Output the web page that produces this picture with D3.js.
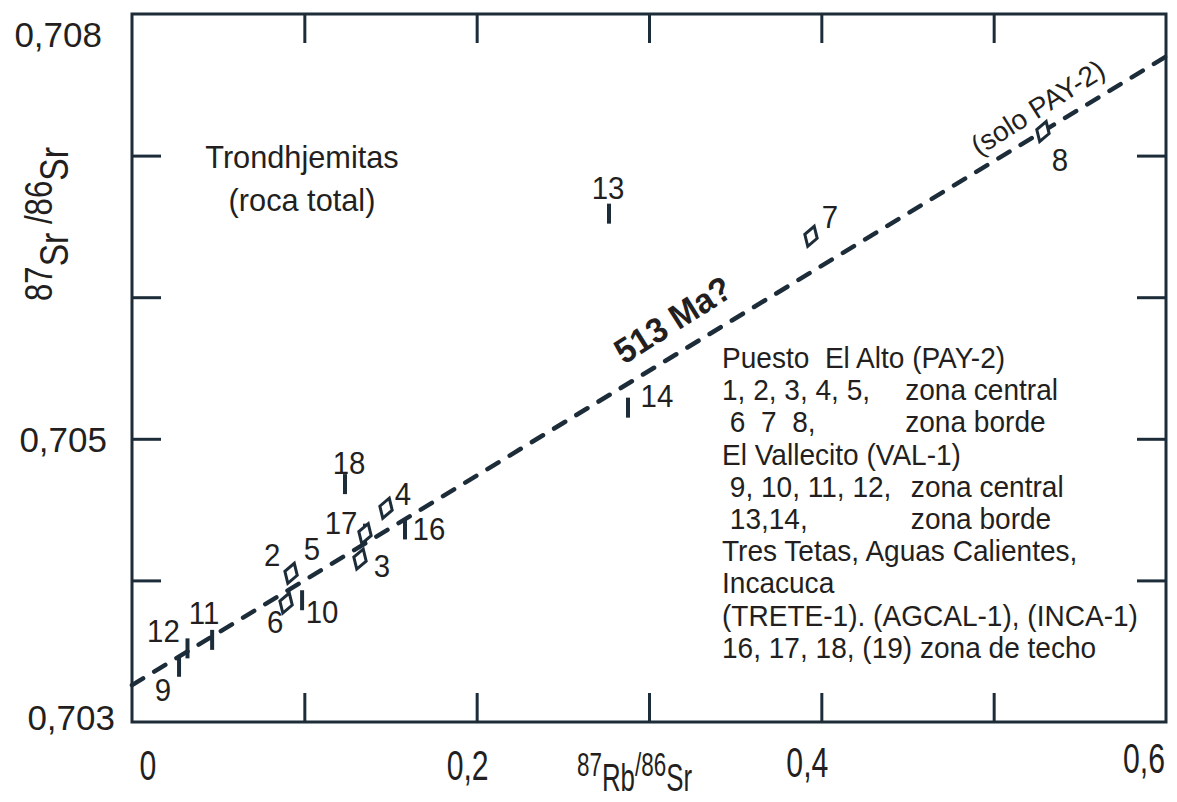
<!DOCTYPE html>
<html>
<head>
<meta charset="utf-8">
<script src="https://cdn.jsdelivr.net/npm/d3@7"></script>
<style>
body { margin: 0; background: #fff; }
svg text { font-family: "Liberation Sans", Arial, sans-serif; fill: #231f20; }
</style>
</head>
<body>
<div id="chart"></div>
<script>
// samples: number, 87Rb/86Sr, 87Sr/86Sr, group
var sampleIds = ["9", "12", "11", "6", "10", "2", "3", "17", "5", "4", "16", "18", "13", "14", "7", "8"];
var rbSr = [0.0273, 0.0322, 0.0465, 0.0894, 0.0987, 0.0923, 0.1323, 0.1352, 0.1352, 0.1474, 0.1584, 0.1236, 0.2768, 0.2878, 0.3940, 0.5286];
var srSr = [0.70339, 0.70352, 0.70358, 0.70384, 0.70386, 0.70405, 0.70415, 0.70433, 0.70433, 0.70451, 0.70436, 0.70468, 0.70659, 0.70522, 0.70643, 0.70717];
var groups = ["VAL-1", "VAL-1", "VAL-1", "PAY-2", "VAL-1", "PAY-2", "PAY-2", "techo", "PAY-2", "PAY-2", "techo", "techo", "VAL-1", "VAL-1", "PAY-2", "PAY-2"];

// reference isochron (513 Ma?)
var isoX = [0, 0.6];
var isoY = [0.70326, 0.70770];

// ticks and tick labels
var xTicks = [0.1, 0.2, 0.3, 0.4, 0.5];
var yTicks = [0.704, 0.705, 0.706, 0.707];
var xLabelValues = [0, 0.2, 0.4, 0.6];
var yLabelValues = [0.703, 0.705, 0.708];

var legendLeft = ["Puesto  El Alto (PAY-2)", "1, 2, 3, 4, 5,", " 6  7  8,", "El Vallecito (VAL-1)",
    " 9, 10, 11, 12,", " 13,14,", "Tres Tetas, Aguas Calientes,", "Incacuca",
    "(TRETE-1). (AGCAL-1), (INCA-1)", "16, 17, 18, (19) zona de techo"];
var legendRight = ["", "zona central", "zona borde", "", "zona central", "zona borde", "", "", "", ""];

// label offsets in px relative to the marker
var labelOffset = {
    "9": [-16, 23], "12": [-24, -17], "11": [-8, -27], "6": [-11, 19], "10": [20, 12],
    "2": [-19, -18], "3": [22, 7], "17": [-24, -11], "5": [-53, 15], "4": [17, -14],
    "16": [24, 0], "18": [4, -21], "13": [-1, -26], "14": [29, -12], "7": [19, -19], "8": [17, 28]
};

var ink = "#1d2c39";
var width = 1177, height = 802;

var x = d3.scaleLinear().domain([0, 0.6]).range([132, 1166]);
var y = d3.scaleLinear().domain([0.703, 0.708]).range([722, 14]);
var locale = d3.formatLocale({decimal: ",", thousands: ".", grouping: [3], currency: ["", ""]});
var fmt = function(v) { return v === 0 ? "0" : locale.format(",")(v); };

var svg = d3.select("#chart").append("svg")
    .attr("width", width)
    .attr("height", height);

// inner ticks on all four sides
function styleAxis(g) {
    g.select(".domain").remove();
    g.selectAll("line").attr("stroke", ink).attr("stroke-width", 3);
}
svg.append("g").attr("transform", "translate(0," + y(0.703) + ")")
    .call(d3.axisBottom(x).tickValues(xTicks).tickSize(-29).tickFormat("")).call(styleAxis);
svg.append("g").attr("transform", "translate(0," + y(0.708) + ")")
    .call(d3.axisTop(x).tickValues(xTicks).tickSize(-29).tickFormat("")).call(styleAxis);
svg.append("g").attr("transform", "translate(" + x(0) + ",0)")
    .call(d3.axisLeft(y).tickValues(yTicks).tickSize(-29).tickFormat("")).call(styleAxis);
svg.append("g").attr("transform", "translate(" + x(0.6) + ",0)")
    .call(d3.axisRight(y).tickValues(yTicks).tickSize(-29).tickFormat("")).call(styleAxis);

// frame
svg.append("rect")
    .attr("x", x(0)).attr("y", y(0.708))
    .attr("width", x(0.6) - x(0)).attr("height", y(0.703) - y(0.708))
    .attr("fill", "none").attr("stroke", ink).attr("stroke-width", 3);

// tick labels
var xLabelShift = [16, -9, -14, -22];
var xLabelBase = [780, 780, 777, 773];
svg.selectAll(".xlab").data(xLabelValues).enter().append("text")
    .attr("class", "xlab")
    .attr("transform", function(d, i) { return "translate(" + (x(d) + xLabelShift[i]) + "," + xLabelBase[i] + ") scale(0.72,1)"; })
    .attr("text-anchor", "middle")
    .style("font-size", "42px")
    .text(fmt);

var yLabelRight = [115, 107, 102];
var yLabelShift = [8, 13, 33];
svg.selectAll(".ylab").data(yLabelValues).enter().append("text")
    .attr("class", "ylab")
    .attr("x", function(d, i) { return yLabelRight[i]; })
    .attr("y", function(d, i) { return y(d) + yLabelShift[i]; })
    .attr("text-anchor", "end")
    .style("font-size", "35px")
    .text(fmt);

// axis titles
var xt = svg.append("text")
    .attr("transform", "translate(577,776) scale(0.68,1)");
xt.append("tspan").style("font-size", "33px").text("87");
xt.append("tspan").style("font-size", "38px").attr("dy", 15).text("Rb");
xt.append("tspan").style("font-size", "33px").attr("dy", -15).text("/86");
xt.append("tspan").style("font-size", "38px").attr("dy", 15).text("Sr");

var yt = svg.append("text")
    .attr("transform", "translate(52,301) rotate(-90) scale(0.82,1)");
yt.append("tspan").style("font-size", "38px").text("87");
yt.append("tspan").style("font-size", "41px").attr("dy", 16).text("Sr");
yt.append("tspan").style("font-size", "38px").attr("dy", -16).text(" /86");
yt.append("tspan").style("font-size", "41px").attr("dy", 16).text("Sr");

// isochron
var isoData = d3.zip(isoX, isoY);
svg.append("path")
    .datum(isoData)
    .attr("fill", "none")
    .attr("stroke", ink)
    .attr("stroke-width", 4.5)
    .attr("stroke-dasharray", "13,13")
    .attr("stroke-linecap", "round")
    .attr("d", d3.line().x(function(d) { return x(d[0]); }).y(function(d) { return y(d[1]); }));

var angle = Math.atan2(y(isoY[1]) - y(isoY[0]), x(isoX[1]) - x(isoX[0])) * 180 / Math.PI;
function onLine(xv) {
    var yv = isoY[0] + (isoY[1] - isoY[0]) * (xv - isoX[0]) / (isoX[1] - isoX[0]);
    return [x(xv), y(yv)];
}
var p1 = onLine(0.291);
svg.append("text")
    .attr("transform", "translate(" + p1[0] + "," + p1[1] + ") rotate(" + (angle - 1) + ") scale(0.95,1)")
    .attr("y", -18)
    .style("font-size", "35px").style("font-weight", "bold")
    .text("513 Ma?");
var p2 = onLine(0.495);
svg.append("text")
    .attr("transform", "translate(" + p2[0] + "," + p2[1] + ") rotate(" + (angle - 1) + ")")
    .attr("y", -12)
    .style("font-size", "28px")
    .text("(solo PAY-2)");

// samples
var samples = sampleIds.map(function(id, i) {
    return {id: id, rb: rbSr[i], sr: srSr[i], group: groups[i]};
});

svg.selectAll(".bar").data(samples.filter(function(d) { return d.group !== "PAY-2"; }))
    .enter().append("line")
    .attr("class", "bar")
    .attr("x1", function(d) { return x(d.rb); }).attr("x2", function(d) { return x(d.rb); })
    .attr("y1", function(d) { return y(d.sr) - 10; }).attr("y2", function(d) { return y(d.sr) + 10; })
    .attr("stroke", ink).attr("stroke-width", 4);

svg.selectAll(".dia").data(samples.filter(function(d) { return d.group === "PAY-2"; }))
    .enter().append("path")
    .attr("class", "dia")
    .attr("transform", function(d) { return "translate(" + x(d.rb) + "," + y(d.sr) + ") rotate(18)"; })
    .attr("d", "M0,-10.5L6.5,0L0,10.5L-6.5,0Z")
    .attr("fill", "#fff").attr("stroke", ink).attr("stroke-width", 3);

svg.selectAll(".lab").data(samples).enter().append("text")
    .attr("class", "lab")
    .attr("transform", function(d) {
        return "translate(" + (x(d.rb) + labelOffset[d.id][0]) + "," + (y(d.sr) + labelOffset[d.id][1] + 11) + ") scale(0.92,1)";
    })
    .attr("text-anchor", "middle")
    .style("font-size", "32px")
    .text(function(d) { return d.id; });

// rock type label
svg.append("text").attr("transform", "translate(302,168) scale(0.96,1)").attr("text-anchor", "middle")
    .style("font-size", "32px").text("Trondhjemitas");
svg.append("text").attr("transform", "translate(302,211) scale(0.96,1)").attr("text-anchor", "middle")
    .style("font-size", "32px").text("(roca total)");

// legend
var legend = svg.append("g").attr("transform", "translate(722,368) scale(0.935,1)");
legend.selectAll(".l1").data(legendLeft).enter().append("text")
    .attr("y", function(d, i) { return i * 32.2; })
    .attr("xml:space", "preserve")
    .style("font-size", "30px")
    .text(function(d) { return d; });
legend.selectAll(".l2").data(legendRight).enter().append("text")
    .attr("x", function(d, i) { return i < 4 ? 196 : 202; })
    .attr("y", function(d, i) { return i * 32.2; })
    .style("font-size", "30px")
    .text(function(d) { return d; });
</script>
</body>
</html>
